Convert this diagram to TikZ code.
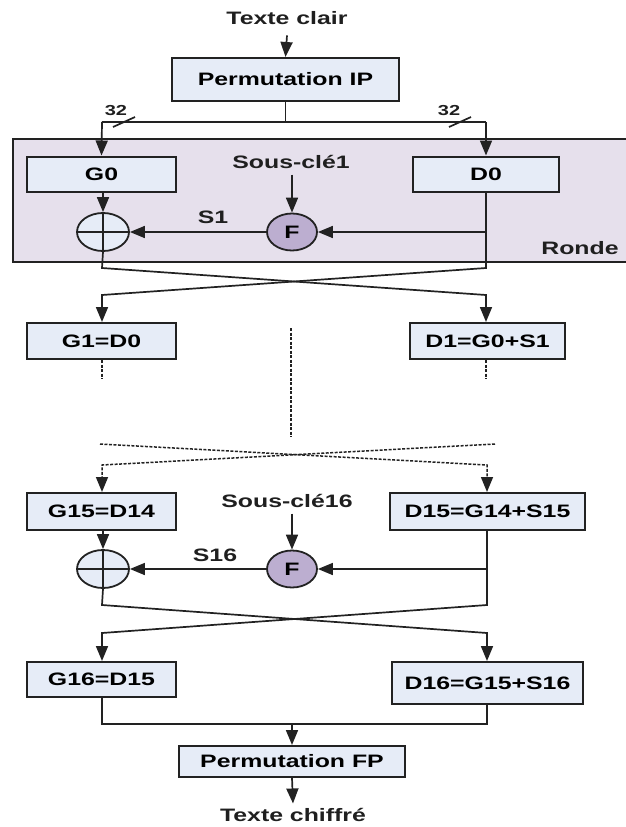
\documentclass[tikz,border=0pt]{standalone}
\usepackage{fontspec}
\setmainfont{Liberation Sans}[FakeStretch=1.38]
\usetikzlibrary{arrows.meta,shapes.geometric}
\definecolor{boxfill}{HTML}{E6ECF7}
\definecolor{rondefill}{HTML}{E6E0EC}
\definecolor{ffill}{HTML}{BCAED0}
\definecolor{edgec}{HTML}{222222}
\begin{document}
\begin{tikzpicture}[x=1pt,y=-1pt,
  font=\bfseries\fontsize{18}{21}\selectfont,
  line width=1.7pt, draw=edgec,
  >={Triangle[length=15pt,width=12pt]},
  blk/.style={draw=edgec, fill=boxfill, line width=2pt, inner sep=0pt, minimum width=#1},
  lbl/.style={inner sep=0pt, text=black!88},
  fcirc/.style={ellipse, draw=edgec, fill=ffill, line width=1.8pt, inner sep=0pt, minimum width=50pt, minimum height=37pt},
  xcirc/.style={ellipse, draw=edgec, fill=boxfill, line width=1.8pt, inner sep=0pt, minimum width=52pt, minimum height=38pt},
  dotln/.style={dash pattern=on 3pt off 1.5pt, line width=1.5pt},
  small/.style={font=\bfseries\fontsize{14.5}{16}\selectfont}
]
\useasboundingbox (0,0) rectangle (626,827);
% Round background
\node[draw=edgec, fill=rondefill, line width=2pt, minimum width=620pt, minimum height=123pt, anchor=north west, inner sep=0pt] (ronde) at (12,138) {};
\node[lbl] (rondelbl) at (580,248) {Ronde};

% Top
\node[lbl] (txtin) at (287,18) {Texte clair};
\node[blk=227pt, minimum height=43pt] (ip) at (285.5,79.5) {Permutation IP};
\draw[->] ([yshift=-10pt]txtin.south) -- (ip.north);
\coordinate (sl) at (102,122);
\coordinate (sr) at (486,122);
\coordinate (sm) at (ip.south |- sl);
\draw (ip.south) -- (sm);
\draw (sl) -- (sr);
\node[lbl, small] (n32l) at (116,111) {32};
\node[lbl, small] (n32r) at (449,111) {32};
\coordinate (tl) at (124,122);
\coordinate (tr) at (460,122);
\draw ([shift={(-11,5)}]tl) -- ([shift={(11,-5)}]tl);
\draw ([shift={(-11,5)}]tr) -- ([shift={(11,-5)}]tr);

% Round 1
\node[blk=149pt, minimum height=35pt] (g0) at (101.5,174) {G0};
\node[blk=146pt, minimum height=35pt] (d0) at (486,174) {D0};
\draw[->] (sl) -- (g0.north);
\draw[->] (sr) -- (d0.north);
\node[lbl] (sk1) at (291,162) {Sous-clé1};
\node[fcirc] (f1) at (292,232) {F};
\node[xcirc] (x1) at (103,232) {};
\draw (x1.west) -- (x1.east);
\draw (x1.north) -- (x1.south);
\draw[->] ([yshift=-5pt]sk1.south -| f1) -- (f1.north);
\draw[->] (g0.south -| x1) -- (x1.north);
\coordinate (fb1) at (d0.south |- f1);
\draw[->] (fb1) -- (f1.east);
\draw[->] (f1.west) -- (x1.east);
\node[lbl] (s1) at (213,217) {S1};

% Cross 1
\coordinate (xl1) at (102,268);
\coordinate (xr1) at (486,268);
\coordinate (yl1) at (102,295);
\coordinate (yr1) at (486,295);
\node[blk=149pt, minimum height=36pt] (g1) at (101.5,341) {G1=D0};
\node[blk=155pt, minimum height=36pt] (d1) at (487.5,341) {D1=G0+S1};
\draw[->] (x1.south) -- (xl1) -- (yr1) -- (yr1 |- d1.north);
\draw[->] (d0.south) -- (xr1) -- (yl1) -- (yl1 |- g1.north);

% Dotted continuation
\coordinate (gdl) at (102,379);
\coordinate (gdr) at (486,379);
\draw[dotln] (g1.south -| gdl) -- (gdl);
\draw[dotln] (d1.south -| gdr) -- (gdr);
\coordinate (ct) at (291,328);
\coordinate (cb) at (291,437);
\draw[dotln] (ct) -- (cb);

% Dashed cross
\coordinate (dl1) at (100,444);
\coordinate (dr1) at (495,444);
\coordinate (dl2) at (102,465);
\coordinate (dr2) at (487,465);
\node[blk=149pt, minimum height=37pt] (g15) at (101.5,511.5) {G15=D14};
\node[blk=195pt, minimum height=37pt] (d15) at (487.5,511.5) {D15=G14+S15};
\draw[dotln, ->] (dl1) -- (dr2) -- (dr2 |- d15.north);
\draw[dotln, ->] (dr1) -- (dl2) -- (dl2 |- g15.north);

% Round 16
\node[lbl] (sk16) at (287,501) {Sous-clé16};
\node[fcirc] (f2) at (292,569) {F};
\node[xcirc] (x2) at (103,569) {};
\draw (x2.west) -- (x2.east);
\draw (x2.north) -- (x2.south);
\draw[->] ([yshift=-5pt]sk16.south -| f2) -- (f2.north);
\draw[->] (g15.south -| x2) -- (x2.north);
\coordinate (fb2) at (dr2 |- f2);
\draw[->] (fb2) -- (f2.east);
\draw[->] (f2.west) -- (x2.east);
\node[lbl] (s16) at (215,555) {S16};

% Cross 16
\coordinate (xl2) at (102,605);
\coordinate (xr2) at (487,605);
\coordinate (yl2) at (102,633);
\coordinate (yr2) at (487,633);
\node[blk=149pt, minimum height=35pt] (g16) at (101.5,679.5) {G16=D15};
\node[blk=191pt, minimum height=42pt] (d16) at (487.5,683) {D16=G15+S16};
\draw[->] (x2.south) -- (xl2) -- (yr2) -- (yr2 |- d16.north);
\draw[->] (d15.south -| xr2) -- (xr2) -- (yl2) -- (yl2 |- g16.north);

% Bottom
\coordinate (bl) at (102,724);
\coordinate (br) at (487,724);
\coordinate (bm) at (292,724);
\node[blk=226pt, minimum height=31pt] (fp) at (292,761.5) {Permutation FP};
\draw (g16.south -| bl) -- (bl) -- (br) -- (d16.south -| br);
\draw[->] (bm) -- (fp.north);
\node[lbl] (txtout) at (293,815) {Texte chiffré};
\draw[->] (fp.south) -- ([yshift=4pt]txtout.north);
\end{tikzpicture}
\end{document}
